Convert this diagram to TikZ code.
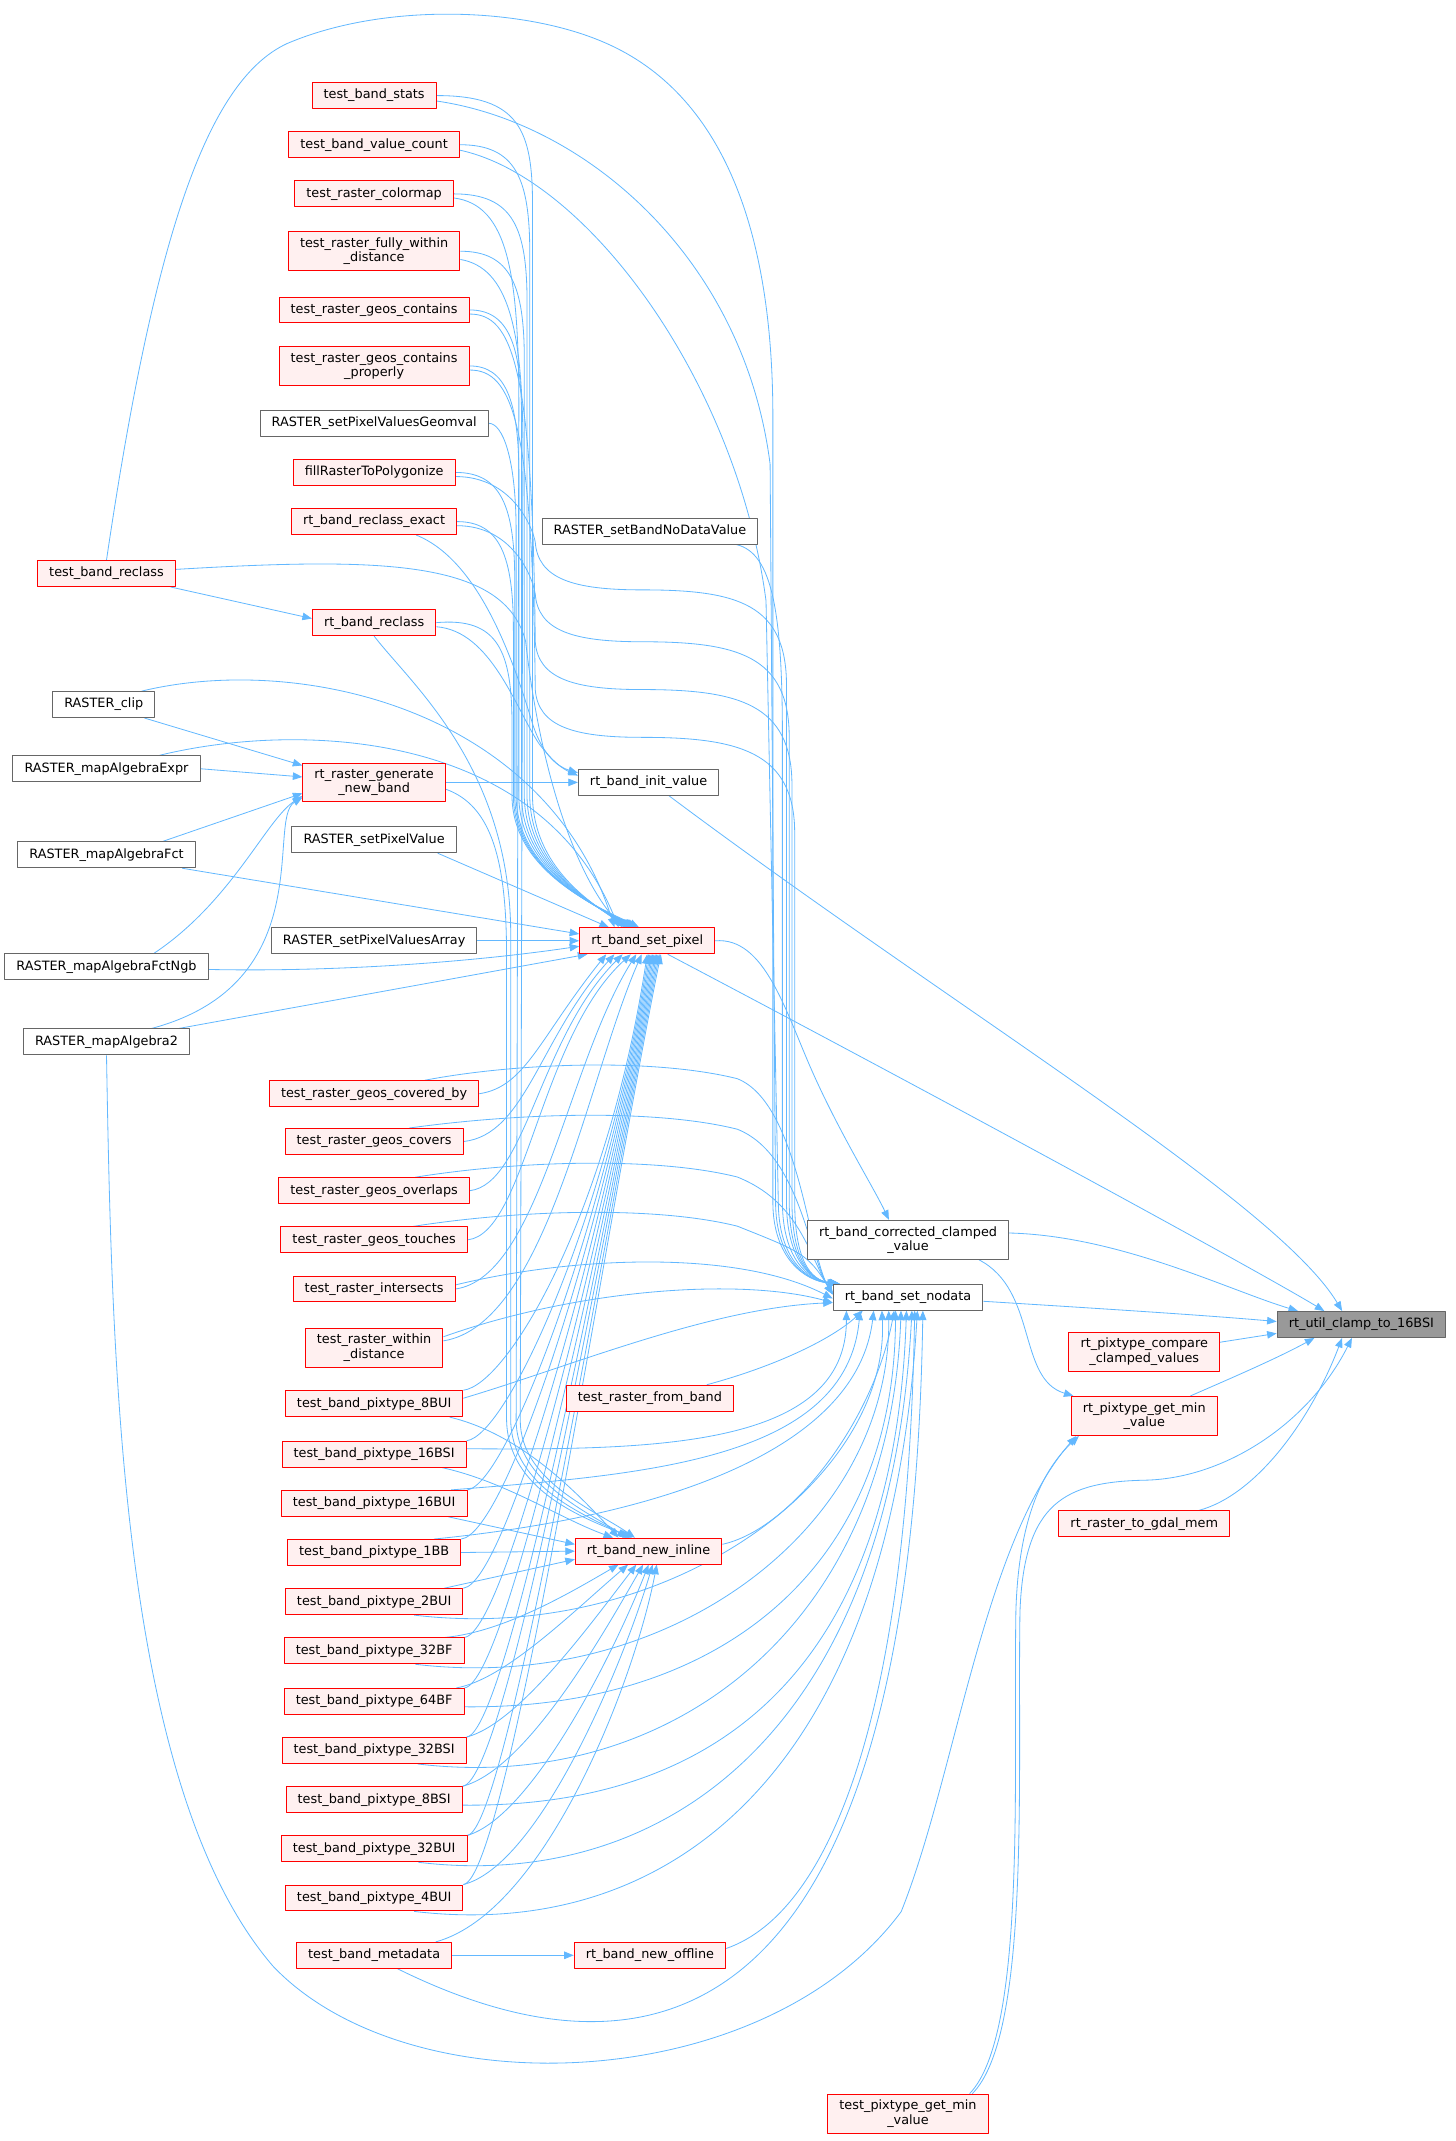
\documentclass[tikz,border=0pt]{standalone}
\usepackage{fontspec}
\setmainfont{DejaVu Sans}
\usetikzlibrary{arrows.meta}
\definecolor{CallBlue}{HTML}{63B8FF}
\definecolor{FnRed}{HTML}{FF0000}
\definecolor{FnPink}{HTML}{FFF0F0}
\definecolor{FnGrey}{HTML}{666666}
\definecolor{FnRoot}{HTML}{999999}
\pgfdeclarelayer{edges}
\pgfsetlayers{edges,main}

\begin{document}
\begin{tikzpicture}[x=1pt,y=-1pt,line cap=round,line join=round,
  fnbox/.style={rectangle,draw,line width=0.7pt,inner xsep=8.5pt,inner ysep=4.4pt,
    minimum height=19pt,align=center,font=\fontsize{9.4}{10.5}\selectfont},
  redfn/.style={fnbox,draw=FnRed,fill=FnPink},
  greyfn/.style={fnbox,draw=FnGrey,fill=white},
  rootfn/.style={fnbox,draw=FnGrey,fill=FnRoot},
  call/.style={draw=CallBlue,line width=0.6pt,-{Triangle[length=7pt,width=5.5pt]}}]
  \useasboundingbox (0,0) rectangle (1066,1568);

  % left column
  \node[redfn]  (trcl)  at (78,420) {test\_band\_reclass};
  \node[greyfn] (rclip) at (76,516) {RASTER\_clip};
  \node[greyfn] (mae)   at (78,563) {RASTER\_mapAlgebraExpr};
  \node[greyfn] (maf)   at (78,626) {RASTER\_mapAlgebraFct};
  \node[greyfn] (mafn)  at (78,708) {RASTER\_mapAlgebraFctNgb};
  \node[greyfn] (ma2)   at (78,763) {RASTER\_mapAlgebra2};

  % second column
  \node[redfn]  (tstats)  at (274,70)  {test\_band\_stats};
  \node[redfn]  (tvcount) at (274,106) {test\_band\_value\_count};
  \node[redfn]  (tcmap)   at (274,142) {test\_raster\_colormap};
  \node[redfn]  (tfwd)    at (274,184) {test\_raster\_fully\_within\\\_distance};
  \node[redfn]  (tgcont)  at (274,227) {test\_raster\_geos\_contains};
  \node[redfn]  (tgcontp) at (274,268) {test\_raster\_geos\_contains\\\_properly};
  \node[greyfn] (spvg)    at (274,310) {RASTER\_setPixelValuesGeomval};
  \node[redfn]  (fill)    at (274,346) {fillRasterToPolygonize};
  \node[redfn]  (rcex)    at (274,382) {rt\_band\_reclass\_exact};
  \node[redfn]  (rcl)     at (274,456) {rt\_band\_reclass};
  \node[redfn]  (gnb)     at (274,573) {rt\_raster\_generate\\\_new\_band};
  \node[greyfn] (spv)     at (274,615) {RASTER\_setPixelValue};
  \node[greyfn] (spva)    at (274,689) {RASTER\_setPixelValuesArray};
  \node[redfn]  (tcovby)  at (274,801) {test\_raster\_geos\_covered\_by};
  \node[redfn]  (tcov)    at (274,836) {test\_raster\_geos\_covers};
  \node[redfn]  (tovl)    at (274,872) {test\_raster\_geos\_overlaps};
  \node[redfn]  (ttch)    at (274,908) {test\_raster\_geos\_touches};
  \node[redfn]  (tint)    at (274,944) {test\_raster\_intersects};
  \node[redfn]  (twd)     at (274,987) {test\_raster\_within\\\_distance};
  \foreach \n/\t/\y in {p8bui/8BUI/1028,p16bsi/16BSI/1065,p16bui/16BUI/1101,
      p1bb/1BB/1137,p2bui/2BUI/1173,p32bf/32BF/1209,p64bf/64BF/1246,
      p32bsi/32BSI/1282,p8bsi/8BSI/1318,p32bui/32BUI/1354,p4bui/4BUI/1390}
    \node[redfn] (\n) at (274,\y) {test\_band\_pixtype\_\t};
  \node[redfn]  (tmeta)   at (274,1432) {test\_band\_metadata};

  % third column
  \node[greyfn] (bndv)   at (476,389)  {RASTER\_setBandNoDataValue};
  \node[greyfn] (initv)  at (475,573)  {rt\_band\_init\_value};
  \node[redfn]  (setpx)  at (474,689)  {rt\_band\_set\_pixel};
  \node[redfn]  (frmb)   at (476,1024) {test\_raster\_from\_band};
  \node[redfn]  (newin)  at (475,1136) {rt\_band\_new\_inline};
  \node[redfn]  (newoff) at (476,1432) {rt\_band\_new\_offline};

  % right part
  \node[greyfn] (corr)  at (665,908)  {rt\_band\_corrected\_clamped\\\_value};
  \node[greyfn] (nod)   at (665,950)  {rt\_band\_set\_nodata};
  \node[redfn]  (tgmin) at (665,1548) {test\_pixtype\_get\_min\\\_value};
  \node[redfn]  (cmp)   at (838,990)  {rt\_pixtype\_compare\\\_clamped\_values};
  \node[redfn]  (gmin)  at (838,1037) {rt\_pixtype\_get\_min\\\_value};
  \node[redfn]  (gdal)  at (838,1116) {rt\_raster\_to\_gdal\_mem};
  \node[rootfn] (U)     at (997,970)  {rt\_util\_clamp\_to\_16BSI};

  \begin{pgfonlayer}{edges}
  % into the root
  \draw[call] ([xshift=15pt]initv.south) .. controls (700,740) and (935,880) .. (U.145);
  \draw[call] ([xshift=15pt]setpx.south) .. controls (700,810) and (920,930) .. (U.160);
  \draw[call] ([yshift=5pt]corr.east) .. controls (820,905) and (900,945) .. (U.168);
  \draw[call] ([yshift=-3pt]nod.east) .. controls (800,958) and (880,963) .. (U.178);
  \draw[call] ([yshift=7pt]cmp.east) -- (U.186);
  \draw[call] ([xshift=-20pt]gmin.north east) .. controls (900,1010) and (935,995) .. (U.196);
  \draw[call] ([xshift=40pt]gdal.north) .. controls (920,1095) and (960,1040) .. (U.215);
  \draw[call] ([xshift=-12pt]tgmin.north east) .. controls (755,1490) and (745,1300) .. (747,1180)
    .. controls (750,1100) and (780,1085) .. (840,1084) .. controls (900,1082) and (960,1040) .. (U.235);

  % rt_pixtype_get_min_value
  \draw[call] ([xshift=-22pt]corr.south east) .. controls (760,945) and (745,1010) .. ([xshift=2pt]gmin.north west);
  \draw[call] ([xshift=-14pt]tgmin.north east) .. controls (752,1490) and (742,1300) .. (744,1180)
    .. controls (746,1110) and (765,1075) .. ([xshift=6pt]gmin.south west);
  \draw[call] (ma2.south) .. controls (82,1000) and (88,1310) .. (200,1440)
    .. controls (300,1545) and (560,1535) .. (660,1400) .. controls (700,1300) and (720,1130) .. ([xshift=4pt]gmin.south west);

  % rt_band_corrected_clamped_value
  \draw[call] (setpx.east) .. controls (560,686) and (575,740) .. (595,785)
    .. controls (615,830) and (640,870) .. ([xshift=-14pt]corr.north);

  % rt_band_set_nodata from above
  \draw[call] (trcl.north) .. controls (112,180) and (150,60) .. (210,32) .. controls (280,2) and (380,5) .. (440,30)
    .. controls (525,65) and (565,160) .. (566,300) -- (566,880) .. controls (566,922) and (590,938) .. ([xshift=3pt]nod.north west);
  \draw[call] ([yshift=-4pt]tstats.east) .. controls (430,90) and (545,190) .. (564,340) -- (568,880)
    .. controls (568,922) and (590,938) .. ([xshift=4pt]nod.north west);
  \draw[call] ([yshift=-4pt]tvcount.east) .. controls (430,130) and (540,280) .. (561,440) -- (570,880)
    .. controls (570,922) and (591,938) .. ([xshift=4pt]nod.north west);
  \draw[call] ([xshift=-16pt]bndv.south east) .. controls (566,405) and (573,450) .. (573,540) -- (573,880)
    .. controls (573,922) and (592,938) .. ([xshift=5pt]nod.north west);
  \foreach \src/\ye/\hy/\hb in {fill/346/432/576,rcex/382/470/578,tgcont/227/505/580,tgcontp/268/540/582}
    \draw[call] ([yshift=-3pt]\src.east) .. controls (375,\ye+3) and (390,\ye+40) .. (392,\hy-35)
      .. controls (394,\hy-8) and (420,\hy) .. (470,\hy) .. controls (540,\hy) and (\hb,\hy+10) .. (\hb,\hy+70)
      -- (\hb,880) .. controls (\hb,922) and (593,938) .. ([xshift=5pt]nod.north west);

  % rt_band_set_pixel from above
  \foreach \src/\ye/\bx/\s in {tstats/70/390/-16,tvcount/106/388/-15,tcmap/142/386/-14,tfwd/184/384/-13,
      tgcont/227/382/-12,tgcontp/268/380/-11,spvg/310/378/-10,fill/346/377/-9,rcex/382/376/-8,rcl/452/375/-6}
    \draw[call] (\src.east) .. controls (\bx-10,\ye) and (\bx,\ye+25) .. (\bx,\ye+80) -- (\bx,585)
      .. controls (\bx+2,640) and (440,665) .. ([xshift=\s pt]setpx.north);
  \draw[call] ([yshift=3pt]trcl.east) .. controls (280,408) and (370,410) .. (385,470)
    .. controls (395,560) and (420,640) .. ([xshift=-18pt]setpx.north);
  \draw[call] ([xshift=-10pt]rclip.north east) .. controls (220,478) and (400,520) .. ([xshift=-24pt]setpx.north);
  \draw[call] ([xshift=-30pt]mae.north east) .. controls (220,528) and (395,535) .. ([xshift=-21pt]setpx.north);
  \draw[call] ([xshift=-14pt]spv.south east) -- ([xshift=-28pt]setpx.north);
  \draw[call] ([xshift=-10pt]maf.south east) -- ([yshift=5pt]setpx.west);
  \draw[call] (spva.east) -- (setpx.west);
  \draw[call] ([yshift=-2pt]mafn.east) .. controls (250,712) and (350,704) .. ([yshift=-4pt]setpx.west);
  \draw[call] ([xshift=-8pt]ma2.north east) -- ([xshift=6pt]setpx.south west);

  % rt_raster_generate_new_band
  \draw[call] ([xshift=-8pt]rclip.south east) -- ([yshift=-2pt]gnb.north west);
  \draw[call] (mae.east) -- ([yshift=4pt]gnb.west);
  \draw[call] ([xshift=-24pt]maf.north east) -- ([yshift=-8pt]gnb.west);
  \draw[call] ([xshift=-40pt]mafn.north east) .. controls (170,660) and (195,600) .. ([yshift=-10pt]gnb.west);
  \draw[call] ([xshift=-28pt]ma2.north east) .. controls (235,720) and (195,600) .. ([yshift=-11pt]gnb.west);

  % rt_band_reclass and rt_band_init_value
  \draw[call] ([xshift=-4pt]trcl.south east) -- ([yshift=3pt]rcl.west);
  \draw[call] (gnb.east) -- (initv.west);
  \draw[call] ([yshift=-3pt]rcl.east) .. controls (360,462) and (378,520) .. (395,545)
    .. controls (405,558) and (412,563) .. ([yshift=5pt]initv.west);
  \draw[call] ([xshift=-30pt]rcex.south east) .. controls (350,410) and (375,480) .. (390,530)
    .. controls (398,555) and (410,562) .. ([yshift=7pt]initv.west);

  % rt_band_new_inline from above
  \draw[call] (rcl.south) .. controls (300,500) and (372,560) .. (374,680) -- (374,1040)
    .. controls (375,1090) and (430,1110) .. ([xshift=-14pt]newin.north);
  \draw[call] ([yshift=-5pt]gnb.east) .. controls (360,590) and (371,630) .. (371,700) -- (371,1040)
    .. controls (372,1092) and (428,1112) .. ([xshift=-12pt]newin.north);
  \draw[call] ([yshift=-3pt]tcmap.east) .. controls (372,150) and (380,200) .. (380,300) -- (378,1040)
    .. controls (378,1085) and (432,1108) .. ([xshift=-16pt]newin.north);
  \draw[call] ([yshift=-6pt]tfwd.east) .. controls (372,196) and (383,240) .. (383,330) -- (381,1040)
    .. controls (381,1085) and (436,1106) .. ([xshift=-10pt]newin.north);

  % lower tests
  \foreach \src/\ye/\pk/\s in {tcovby/801/778/-30,tcov/836/815/-24,tovl/872/850/-18,ttch/908/886/-12}{
    \draw[call] (\src.east) .. controls (385,\ye-5) and (395,760) .. ([xshift=\s pt]setpx.south);
    \draw[call] ([xshift=-40pt]\src.north east) .. controls (380,\pk) and (480,\pk-3) .. (540,\pk+12)
      .. controls (585,\pk+30) and (592,918) .. ([yshift=2pt]nod.west);
  }
  \draw[call] (tint.east) .. controls (395,935) and (415,780) .. ([xshift=-8pt]setpx.south);
  \draw[call] ([yshift=3pt]tint.east) .. controls (420,920) and (540,915) .. ([yshift=-1pt]nod.west);
  \draw[call] ([yshift=5pt]twd.east) .. controls (400,970) and (430,790) .. ([xshift=-4pt]setpx.south);
  \draw[call] ([yshift=8pt]twd.east) .. controls (420,945) and (540,935) .. ([yshift=-4pt]nod.west);

  % pixtype tests
  \foreach \n/\y/\s in {p8bui/1028/0,p16bsi/1065/1,p16bui/1101/2,p1bb/1137/3,p2bui/1173/4,p32bf/1209/5,
      p64bf/1246/6,p32bsi/1282/7,p8bsi/1318/8,p32bui/1354/9,p4bui/1390/10}
    \draw[call] (\n.north east) .. controls (372,\y-14) and (445,890) .. ([xshift=\s pt]setpx.south);
  \draw[call] ([xshift=-10pt]p8bui.south east) .. controls (380,1050) and (420,1090) .. ([xshift=-22pt]newin.north);
  \draw[call] ([xshift=-18pt]p16bsi.south east) .. controls (370,1085) and (410,1112) .. ([xshift=-26pt]newin.north);
  \draw[call] ([xshift=-14pt]p16bui.south east) -- ([yshift=5pt]newin.west);
  \draw[call] (p1bb.east) -- (newin.west);
  \draw[call] ([xshift=-14pt]p2bui.north east) -- ([yshift=-6pt]newin.west);
  \draw[call] ([xshift=-14pt]p32bf.north east) .. controls (370,1195) and (420,1165) .. ([xshift=-22pt]newin.south);
  \draw[call] ([xshift=-6pt]p64bf.north east) .. controls (370,1230) and (420,1180) .. ([xshift=-15pt]newin.south);
  \draw[call] (p32bsi.north east) .. controls (380,1262) and (432,1190) .. ([xshift=-9pt]newin.south);
  \draw[call] (p8bsi.north east) .. controls (385,1296) and (440,1200) .. ([xshift=-4pt]newin.south);
  \draw[call] (p32bui.north east) .. controls (390,1330) and (450,1210) .. (newin.south);
  \draw[call] (p4bui.north east) .. controls (395,1366) and (456,1220) .. ([xshift=3pt]newin.south);
  \draw[call] ([xshift=-12pt]tmeta.north east) .. controls (400,1400) and (465,1230) .. ([xshift=6pt]newin.south);
  \draw[call] ([yshift=4pt]p8bui.east) .. controls (420,1000) and (520,958) .. ([yshift=-4pt]nod.west);
  \draw[call] ([yshift=4pt]p16bsi.east) .. controls (480,1062) and (620,1060) .. ([xshift=10pt]nod.south west);
  \draw[call] ([xshift=-12pt]p16bui.north east) .. controls (470,1080) and (620,1070) .. ([xshift=20pt]nod.south west);
  \draw[call] ([xshift=-20pt]p1bb.north east) .. controls (490,1110) and (628,1060) .. ([xshift=30pt]nod.south west);
  \foreach \n/\y/\d in {p2bui/1173/36,p32bf/1209/41,p32bsi/1282/50,p32bui/1354/58,p4bui/1390/62}
    \draw[call] ([xshift=-36pt]\n.south east) .. controls (490,\y+32) and (652,\y-90) .. ([xshift=\d pt]nod.south west);
  \foreach \n/\y/\d in {p64bf/1246/46,p8bsi/1318/54}
    \draw[call] ([yshift=-4pt]\n.east) .. controls (530,\y+6) and (655,\y-100) .. ([xshift=\d pt]nod.south west);

  % metadata, offline, inline, from band
  \draw[call] (tmeta.east) -- (newoff.west);
  \draw[call] ([xshift=-40pt]tmeta.south east) .. controls (500,1545) and (668,1460) .. ([xshift=66pt]nod.south west);
  \draw[call] ([yshift=5pt]newoff.east) .. controls (610,1400) and (665,1250) .. ([xshift=60pt]nod.south west);
  \draw[call] ([yshift=5pt]newin.east) .. controls (580,1120) and (640,1040) .. ([xshift=45pt]nod.south west);
  \draw[call] ([xshift=-20pt]frmb.north east) .. controls (570,1000) and (610,980) .. ([xshift=22pt]nod.south west);
  \end{pgfonlayer}
\end{tikzpicture}
\end{document}
